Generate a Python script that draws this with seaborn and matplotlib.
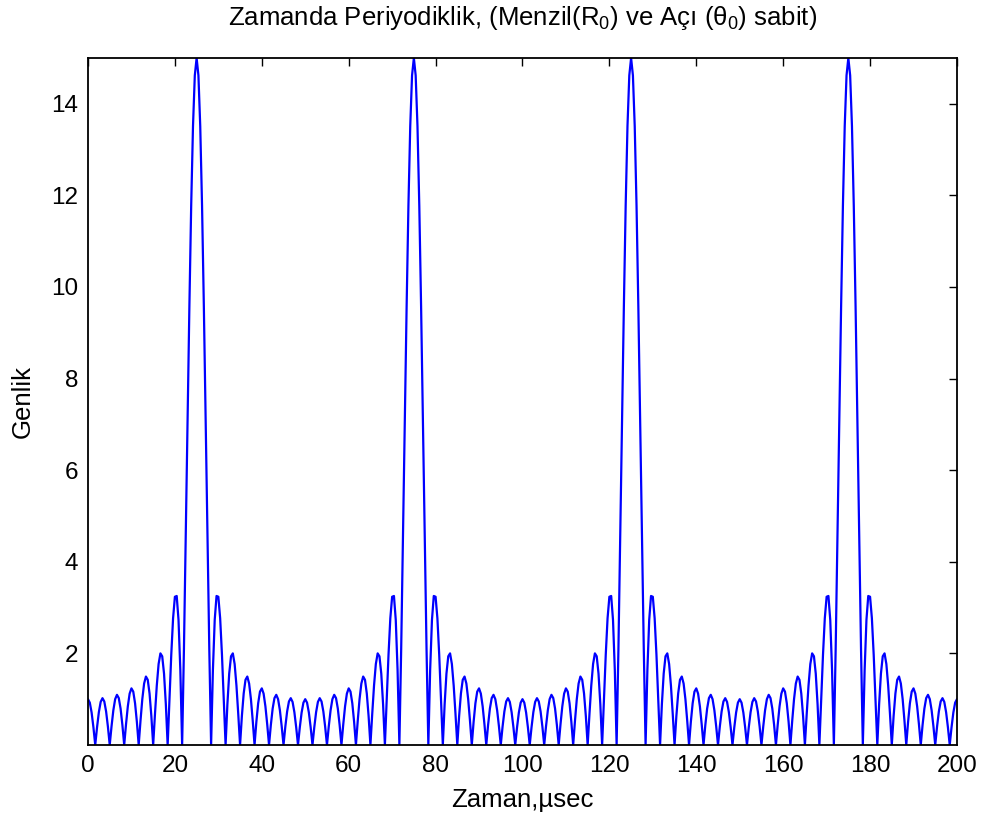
import numpy as np
import pandas as pd
import matplotlib
matplotlib.use("Agg")
import matplotlib.pyplot as plt
import seaborn as sns

# Amplitude over half a period (from peak centre, 25 us, out to the midpoint 0 / 50 us),
# sampled every 5/12 us, read from the picture (peak 15, sidelobes 3.25, 2.0, 1.49, 1.24, 1.1, 1.02, 1.0)
half_period = [15.000, 14.619, 13.511, 11.775, 9.567, 7.078, 4.520, 2.100, 0.000,
               1.639, 2.732, 3.253, 3.236, 2.768, 1.973, 1.000, 0.000,
               0.889, 1.558, 1.936, 2.000, 1.768, 1.298, 0.676, 0.000,
               0.629, 1.124, 1.423, 1.494, 1.342, 1.000, 0.528, 0.000,
               0.503, 0.910, 1.165, 1.236, 1.121, 0.843, 0.449, 0.000,
               0.435, 0.794, 1.024, 1.095, 1.000, 0.757, 0.406, 0.000,
               0.399, 0.732, 0.950, 1.022, 0.940, 0.716, 0.386, 0.000,
               0.384, 0.708, 0.924, 1.000]
n_periods = 4          # peaks at 25, 75, 125, 175 us
t_start, t_end = 0, 200
x_ticks = list(range(0, 201, 20))
y_ticks = list(range(2, 15, 2))
title = "Zamanda Periyodiklik, (Menzil($R_0$) ve Açı ($θ_0$) sabit)"
xlabel = "Zaman,µsec"
ylabel = "Genlik"

# one period: from midpoint (t=0) up to peak (t=25) and back down
period = half_period[:0:-1] + half_period[:-1]
amp = period * n_periods + [half_period[-1]]
t = np.linspace(t_start, t_end, len(amp))
df = pd.DataFrame({"t": t, "amp": amp})

sns.set_style("white")
plt.rcParams["font.family"] = ["Liberation Sans", "DejaVu Sans"]
plt.rcParams["mathtext.fontset"] = "custom"
plt.rcParams["mathtext.rm"] = "Liberation Sans"
plt.rcParams["mathtext.it"] = "Liberation Sans"
plt.rcParams["mathtext.default"] = "regular"
plt.rcParams["text.color"] = "black"
plt.rcParams["axes.labelcolor"] = "black"

fig = plt.figure(figsize=(9.81, 8.21), dpi=100)
ax = fig.add_axes([0.0897, 0.0926, 0.8858, 0.8368])
sns.lineplot(data=df, x="t", y="amp", color="#0000ff", linewidth=1.6,
             estimator=None, sort=False, ax=ax)
ax.set_xlim(t_start, t_end)
ax.set_ylim(0, 15)
ax.set_xticks(x_ticks)
ax.set_yticks(y_ticks)
ax.tick_params(direction="in", length=6, width=1.0, top=True, right=True,
               labelsize=17.5, colors="black", pad=7)
for s in ax.spines.values():
    s.set_linewidth(1.3)
    s.set_color("black")
ax.set_title(title, fontsize=18.5, pad=24, color="black")
ax.set_xlabel(xlabel, fontsize=18.5, labelpad=8)
ax.set_ylabel(ylabel, fontsize=18.5, labelpad=12)

fig.savefig("out.png", dpi=100)
